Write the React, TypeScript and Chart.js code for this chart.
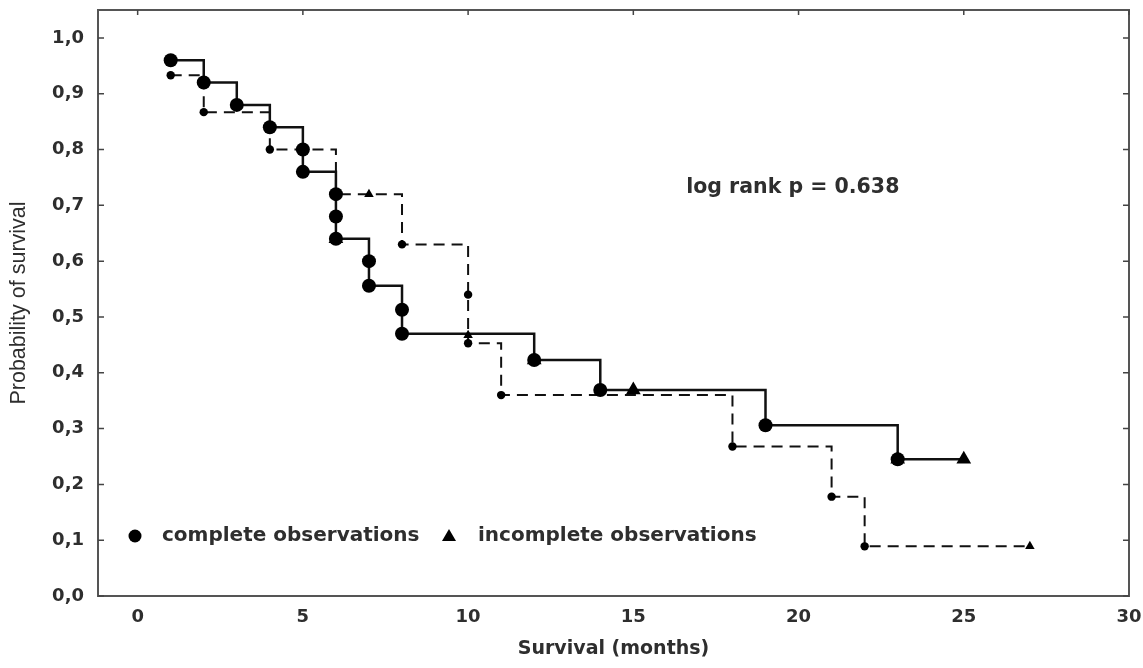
import React, { useEffect, useRef } from 'react';
import { Chart, registerables } from 'chart.js';

Chart.register(...registerables);

// ---- axis ticks ----
const X_TICKS = [0, 5, 10, 15, 20, 25, 30];
const Y_TICKS = [0, 0.1, 0.2, 0.3, 0.4, 0.5, 0.6, 0.7, 0.8, 0.9, 1.0];
const Y_TICK_LABELS = ['0,0', '0,1', '0,2', '0,3', '0,4', '0,5', '0,6', '0,7', '0,8', '0,9', '1,0'];

// ---- group 1 (solid line, large markers) ----
const SOLID_STEP_X = [1, 2, 3, 4, 5, 6, 7, 8, 12, 14, 19, 23, 25];
const SOLID_STEP_Y = [0.96, 0.92, 0.88, 0.84, 0.76, 0.64, 0.556, 0.47, 0.423, 0.369, 0.306, 0.245, 0.245];
const SOLID_EVENT_X = [1, 2, 3, 4, 5, 5, 6, 6, 6, 7, 7, 8, 8, 12, 14, 19, 23];
const SOLID_EVENT_Y = [0.96, 0.92, 0.88, 0.84, 0.8, 0.76, 0.72, 0.68, 0.64, 0.6, 0.556, 0.513, 0.47, 0.423, 0.369, 0.306, 0.245];
const SOLID_CENSOR_X = [6, 12, 15, 23, 25];
const SOLID_CENSOR_Y = [0.64, 0.423, 0.369, 0.245, 0.245];

// ---- group 2 (dashed line, small markers) ----
const DASHED_STEP_X = [1, 2, 4, 6, 8, 10, 11, 18, 21, 22, 27];
const DASHED_STEP_Y = [0.933, 0.867, 0.8, 0.72, 0.63, 0.453, 0.36, 0.268, 0.178, 0.089, 0.089];
const DASHED_EVENT_X = [1, 2, 4, 8, 10, 10, 11, 18, 21, 22];
const DASHED_EVENT_Y = [0.933, 0.867, 0.8, 0.63, 0.54, 0.453, 0.36, 0.268, 0.178, 0.089];
const DASHED_CENSOR_X = [7, 10, 27];
const DASHED_CENSOR_Y = [0.72, 0.467, 0.089];

// ---- texts ----
const LEGEND_LABELS = ['complete observations', 'incomplete observations'];
const ANNOTATION_TEXT = 'log rank p = 0.638';
const X_TITLE = 'Survival (months)';
const Y_TITLE = 'Probability of survival';

const pts = (xs: number[], ys: number[]) => xs.map((x, i) => ({ x, y: ys[i] }));

const TEXT_COLOR = '#2e2e2e';
const WIDE_FONT = '"DejaVu Sans", Verdana, sans-serif';

const decorPlugin = {
  id: 'decor',
  beforeDatasetsDraw(chart: any) {
    const { ctx, chartArea: a, scales } = chart;
    ctx.save();
    // frame
    ctx.strokeStyle = '#555';
    ctx.lineWidth = 2;
    ctx.strokeRect(a.left, a.top, a.right - a.left, a.bottom - a.top);
    // inner tick marks
    ctx.lineWidth = 1.5;
    ctx.strokeStyle = '#444';
    ctx.beginPath();
    Y_TICKS.forEach((v) => {
      const y = scales.y.getPixelForValue(v);
      ctx.moveTo(a.left, y);
      ctx.lineTo(a.left + 6, y);
      ctx.moveTo(a.right - 6, y);
      ctx.lineTo(a.right, y);
    });
    X_TICKS.forEach((v) => {
      const x = scales.x.getPixelForValue(v);
      ctx.moveTo(x, a.top);
      ctx.lineTo(x, a.top + 5);
    });
    ctx.stroke();
    ctx.restore();
  },
  afterDraw(chart: any) {
    const { ctx, chartArea: a, scales } = chart;
    ctx.save();
    // legend
    const ly = a.bottom - 60;
    ctx.fillStyle = '#000';
    ctx.beginPath();
    ctx.arc(a.left + 37, ly, 6.5, 0, Math.PI * 2);
    ctx.fill();
    const tx = a.left + 351;
    ctx.beginPath();
    ctx.moveTo(tx, ly - 7);
    ctx.lineTo(tx + 7, ly + 5);
    ctx.lineTo(tx - 7, ly + 5);
    ctx.closePath();
    ctx.fill();
    ctx.fillStyle = TEXT_COLOR;
    ctx.font = `bold 20px ${WIDE_FONT}`;
    ctx.textBaseline = 'middle';
    ctx.textAlign = 'left';
    ctx.fillText(LEGEND_LABELS[0], a.left + 64, ly);
    ctx.fillText(LEGEND_LABELS[1], a.left + 380, ly);
    // annotation
    ctx.font = `bold 20.5px ${WIDE_FONT}`;
    ctx.fillText(ANNOTATION_TEXT, scales.x.getPixelForValue(16.6), scales.y.getPixelForValue(0.732));
    ctx.restore();
  },
};

export default function App() {
  const ref = useRef<HTMLCanvasElement>(null);
  useEffect(() => {
    const chart = new Chart(ref.current!, {
      type: 'scatter',
      data: {
        datasets: [
          {
            label: 'complete observations (group 1)',
            data: pts(SOLID_EVENT_X, SOLID_EVENT_Y),
            showLine: false,
            pointStyle: 'circle',
            pointRadius: 7,
            backgroundColor: '#000',
            borderColor: '#000',
            borderWidth: 0,
          },
          {
            label: 'incomplete observations (group 1)',
            data: pts(SOLID_CENSOR_X, SOLID_CENSOR_Y),
            showLine: false,
            pointStyle: 'triangle',
            pointRadius: 8.5,
            backgroundColor: '#000',
            borderColor: '#000',
            borderWidth: 0,
          },
          {
            label: 'complete observations (group 2)',
            data: pts(DASHED_EVENT_X, DASHED_EVENT_Y),
            showLine: false,
            pointStyle: 'circle',
            pointRadius: 4.2,
            backgroundColor: '#000',
            borderColor: '#000',
            borderWidth: 0,
          },
          {
            label: 'incomplete observations (group 2)',
            data: pts(DASHED_CENSOR_X, DASHED_CENSOR_Y),
            showLine: false,
            pointStyle: 'triangle',
            pointRadius: 5.5,
            backgroundColor: '#000',
            borderColor: '#000',
            borderWidth: 0,
          },
          {
            label: 'group 1',
            data: pts(SOLID_STEP_X, SOLID_STEP_Y),
            showLine: true,
            stepped: 'before',
            borderColor: '#111',
            borderWidth: 2.5,
            pointRadius: 0,
            fill: false,
          },
          {
            label: 'group 2',
            data: pts(DASHED_STEP_X, DASHED_STEP_Y),
            showLine: true,
            stepped: 'before',
            borderColor: '#111',
            borderWidth: 2,
            borderDash: [11, 7],
            pointRadius: 0,
            fill: false,
          },
        ],
      },
      options: {
        animation: false,
        responsive: true,
        maintainAspectRatio: false,
        layout: { padding: { top: 10, right: 14, left: 0, bottom: 0 } },
        plugins: { legend: { display: false }, tooltip: { enabled: false } },
        scales: {
          x: {
            type: 'linear',
            min: -1.2,
            max: 30,
            grid: { display: false, drawTicks: false },
            border: { display: false },
            afterBuildTicks: (s: any) => {
              s.ticks = X_TICKS.map((v) => ({ value: v }));
            },
            afterFit: (s: any) => {
              s.height = 72;
              s.paddingLeft = 0;
              s.paddingRight = 0;
            },
            ticks: {
              autoSkip: false,
              maxRotation: 0,
              padding: 11,
              color: TEXT_COLOR,
              font: { family: WIDE_FONT, size: 18, weight: 'bold' },
              callback: (v: any) => String(v),
            },
            title: {
              display: true,
              text: X_TITLE,
              color: TEXT_COLOR,
              font: { family: WIDE_FONT, size: 19, weight: 'bold' },
              padding: { top: 0, bottom: 8 },
            },
          },
          y: {
            type: 'linear',
            min: 0,
            max: 1.05,
            grid: { display: false, drawTicks: false },
            border: { display: false },
            afterBuildTicks: (s: any) => {
              s.ticks = Y_TICKS.map((v) => ({ value: v }));
            },
            afterFit: (s: any) => {
              s.width = 98;
              s.paddingTop = 0;
              s.paddingBottom = 0;
            },
            ticks: {
              autoSkip: false,
              padding: 14,
              color: TEXT_COLOR,
              font: { family: WIDE_FONT, size: 18, weight: 'bold' },
              callback: (v: any) => {
                const i = Y_TICKS.findIndex((t) => Math.abs(t - v) < 1e-6);
                return i >= 0 ? Y_TICK_LABELS[i] : '';
              },
            },
            title: {
              display: true,
              text: Y_TITLE,
              color: TEXT_COLOR,
              font: { family: '"Liberation Sans", Arial, sans-serif', size: 21.5, weight: 'normal' },
              padding: { top: 6, bottom: 0 },
            },
          },
        },
      },
      plugins: [decorPlugin],
    } as any);
    return () => chart.destroy();
  }, []);
  return (
    <div style={{ position: 'absolute', left: 0, top: 0, width: 1143, height: 668, background: '#fff' }}>
      <canvas ref={ref} />
    </div>
  );
}
